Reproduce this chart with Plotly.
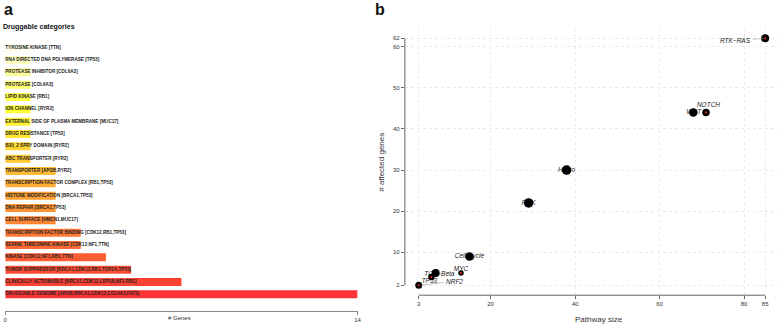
import colorsys
import plotly.graph_objects as go

W, H = 783, 324

# ---------------- data: panel a ----------------
categories = [
    "TYROSINE KINASE", "RNA DIRECTED DNA POLYMERASE", "PROTEASE INHIBITOR", "PROTEASE",
    "LIPID KINASE", "ION CHANNEL", "EXTERNAL SIDE OF PLASMA MEMBRANE", "DRUG RESISTANCE",
    "B30_2 SPRY DOMAIN", "ABC TRANSPORTER", "TRANSPORTER", "TRANSCRIPTION FACTOR COMPLEX",
    "HISTONE MODIFICATION", "DNA REPAIR", "CELL SURFACE", "TRANSCRIPTION FACTOR BINDING",
    "SERINE THREONINE KINASE", "KINASE", "TUMOR SUPPRESSOR", "CLINICALLY ACTIONABLE",
    "DRUGGABLE GENOME",
]
genes = [
    "TTN", "TP53", "COL6A3", "COL6A3", "RB1", "RYR2", "MUC17", "TP53", "RYR2", "RYR2",
    "APOB,RYR2", "RB1,TP53", "BRCA1,TP53", "BRCA1,TP53", "HMCN1,MUC17", "CDK12,RB1,TP53",
    "CDK12,NF1,TTN", "CDK12,NF1,RB1,TTN", "BRCA1,CDK12,RB1,TOP2A,TP53",
    "BRCA1,CDK12,LRP1B,NF1,RB1", "APOB,BRCA1,CDK12,COL6A3,FAT3",
]
n_genes = [1, 1, 1, 1, 1, 1, 1, 1, 1, 1, 2, 2, 2, 2, 2, 3, 3, 4, 5, 7, 14]
gene_ticks = [0, 14]

# ---------------- data: panel b ----------------
pathways = ["RTK-RAS", "NOTCH", "WNT", "Hippo", "PI3K", "Cell Cycle", "MYC", "TGF-Beta", "TP53", "NRF2"]
pathway_size = [85, 71, 68, 38, 29, 15, 13, 7, 6, 3]
affected_genes = [62, 44, 44, 30, 22, 9, 5, 5, 4, 2]
size_ticks = [3, 20, 40, 60, 80, 85]
affected_ticks = [2, 10, 20, 30, 40, 50, 60, 62]

# ---------------- styles ----------------
FONT = "Liberation Sans"
marker_px = [8, 7.5, 8.5, 9.5, 9.5, 8.5, 5.5, 8, 6.5, 7]
red_core = [True, True, False, False, False, False, True, False, True, True]
# label offsets in pixels (right, up); None -> leader-line annotation (ax, ay)
label_off = [None, (2.5, 6.7), (0.5, 0), (0, 0), (0, 0), (0, 0), (0, 3.7), (3.8, -1), (-2, -4.4), None]
leader_off = {0: (-29.5, 2.4), 9: (35.3, -4.0)}


def heat_colors(n):
    j = n // 4
    i = n - j
    cols = []
    for k in range(i):
        h = (1 / 6) * k / (i - 1)
        cols.append(colorsys.hsv_to_rgb(h, 1, 1))
    for k in range(j):
        s0, s1 = 1 - 1 / (2 * j), 1 / (2 * j)
        s = s0 + (s1 - s0) * k / (j - 1)
        cols.append(colorsys.hsv_to_rgb(1 / 6, s, 1))
    return cols


heat = heat_colors(len(categories))[::-1]  # top bar = palest
bar_colors = [f"rgba({round(r*255)},{round(g*255)},{round(b*255)},0.8)" for r, g, b in heat]
labels = [f"{c} [{g}]" for c, g in zip(categories, genes)]

# panel geometry (pixels)
a_x0, a_x1 = 3.3, 358.3
a_ybot, a_ytop = 310.7, 41.0
b_x0, b_x1 = 406.0, 783.0
b_ybot, b_ytop = 295.2, 28.4
bx_range = [-0.28, 88.28]
by_range = [-0.4, 64.4]
px_per_x = (b_x1 - b_x0) / (bx_range[1] - bx_range[0])
px_per_y = (b_ybot - b_ytop) / (by_range[1] - by_range[0])

fig = go.Figure()

fig.add_trace(go.Bar(
    x=n_genes, y=labels, orientation="h", marker=dict(color=bar_colors, line=dict(width=0)),
    xaxis="x", yaxis="y", hoverinfo="skip",
))
fig.add_trace(go.Scatter(
    x=[0] * len(labels), y=labels, mode="text", text=labels, textposition="middle right",
    textfont=dict(family=FONT, size=4.6, color="#222222", weight="bold"),
    xaxis="x", yaxis="y", cliponaxis=False, hoverinfo="skip",
))

# point labels (under the markers)
lx, ly, lt = [], [], []
for i, off in enumerate(label_off):
    if off is None:
        continue
    lx.append(pathway_size[i] + off[0] / px_per_x)
    ly.append(affected_genes[i] + off[1] / px_per_y)
    lt.append(pathways[i].replace("-", "\u2212"))
fig.add_trace(go.Scatter(
    x=lx, y=ly, mode="text", text=lt, textposition="middle center",
    textfont=dict(family=FONT, size=6.5, color="#222222", style="italic"),
    xaxis="x2", yaxis="y2", cliponaxis=False, hoverinfo="skip",
))
fig.add_trace(go.Scatter(
    x=pathway_size, y=affected_genes, mode="markers",
    marker=dict(size=marker_px, color="#000000", opacity=1, line=dict(width=0)),
    xaxis="x2", yaxis="y2", cliponaxis=False, hoverinfo="skip",
))
fig.add_trace(go.Scatter(
    x=[s for s, r in zip(pathway_size, red_core) if r],
    y=[a for a, r in zip(affected_genes, red_core) if r],
    mode="markers", marker=dict(size=2.2, color="#e0201b", line=dict(width=0)),
    xaxis="x2", yaxis="y2", cliponaxis=False, hoverinfo="skip",
))

annotations = []
for i, (ax, ay) in leader_off.items():
    annotations.append(dict(
        x=pathway_size[i], y=affected_genes[i], xref="x2", yref="y2",
        text=pathways[i].replace("-", "\u2212"), showarrow=True, arrowhead=0,
        arrowwidth=0.6, arrowcolor="#999999", ax=ax, ay=ay, standoff=2,
        font=dict(family=FONT, size=6.5, color="#222222", style="italic"),
    ))


def px_ann(text, x, y, size, bold=False, xanchor="center", yanchor="middle", angle=0, color="#111111"):
    return dict(
        text=text, x=x / W, y=1 - y / H, xref="paper", yref="paper", showarrow=False,
        xanchor=xanchor, yanchor=yanchor, textangle=angle, borderpad=0,
        font=dict(family=FONT, size=size, color=color, weight="bold" if bold else "normal"),
    )


annotations += [
    px_ann("a", 6.7, 0, 16, bold=True, yanchor="top"),
    px_ann("b", 380.5, 0, 16, bold=True, yanchor="top"),
    px_ann("Druggable categories", 0, 27.3, 7, bold=True, xanchor="left"),
    px_ann("# Genes", 179, 317.7, 6, color="#333333"),
    px_ann("Pathway size", 602, 319.3, 8, color="#333333"),
    px_ann("# affected genes", 381.7, 162, 8, angle=-90, color="#333333"),
]

shapes = [
    dict(type="line", xref="x2", yref="y2 domain", x0=size_ticks[0], x1=size_ticks[-1], y0=0, y1=0,
         line=dict(color="#666666", width=1)),
    dict(type="line", xref="x2 domain", yref="y2", x0=0, x1=0, y0=affected_ticks[0], y1=affected_ticks[-1],
         line=dict(color="#666666", width=1)),
]

fig.update_layout(
    width=W, height=H, margin=dict(l=0, r=0, t=0, b=0),
    paper_bgcolor="white", plot_bgcolor="white", showlegend=False,
    bargap=0.35, annotations=annotations, shapes=shapes,
    xaxis=dict(
        domain=[a_x0 / W, a_x1 / W], range=[0, 14], tickvals=gene_ticks, ticks="outside", ticklen=3,
        tickcolor="#888888", showline=True, linecolor="#888888", linewidth=1, showgrid=False,
        zeroline=False, tickfont=dict(family=FONT, size=6, color="#333333"), anchor="y",
        fixedrange=True,
    ),
    yaxis=dict(
        domain=[1 - a_ybot / H, 1 - a_ytop / H], type="category", categoryorder="array",
        categoryarray=labels[::-1], range=[-1.33, 20.54], visible=False, anchor="x",
    ),
    xaxis2=dict(
        domain=[b_x0 / W, b_x1 / W], range=bx_range, tickvals=size_ticks, ticks="outside", ticklen=3,
        tickcolor="#666666", showline=False, showgrid=True, gridcolor="#ebebeb", griddash="dot",
        gridwidth=1, zeroline=False, tickfont=dict(family=FONT, size=6, color="#333333"), anchor="y2",
    ),
    yaxis2=dict(
        domain=[1 - b_ybot / H, 1 - b_ytop / H], range=by_range, tickvals=affected_ticks, ticks="outside",
        ticklen=3, tickcolor="#666666", showline=False, showgrid=True, gridcolor="#ebebeb",
        griddash="dot", gridwidth=1, zeroline=False, tickfont=dict(family=FONT, size=6, color="#333333"),
        anchor="x2",
    ),
)

fig.write_html(
    "out.html",
    config={"displayModeBar": False, "staticPlot": True},
    post_script="document.body.style.margin='0';document.body.style.padding='0';",
)
